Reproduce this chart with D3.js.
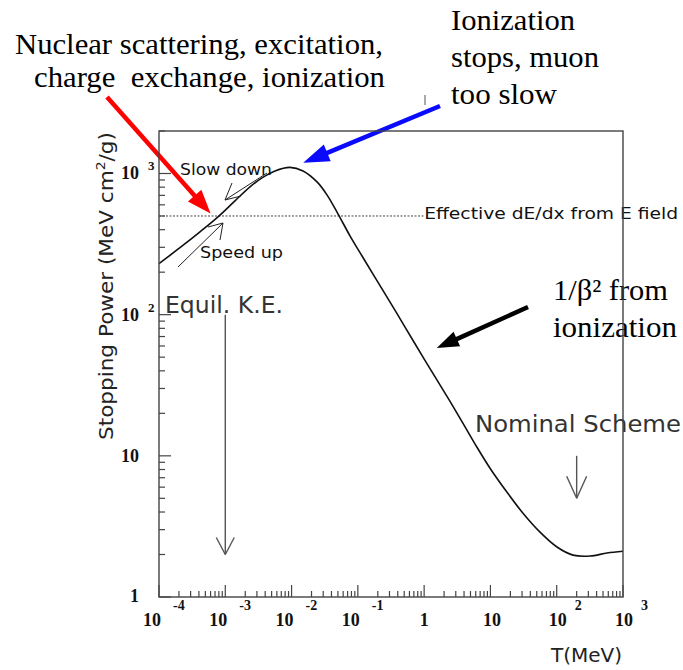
<!DOCTYPE html>
<html>
<head>
<meta charset="utf-8">
<script src="https://cdn.jsdelivr.net/npm/d3@7"></script>
<style>
  html, body { margin: 0; padding: 0; background: #fff; }
  svg { display: block; }
  .serif { font-family: "Liberation Serif", "Times New Roman", serif; }
  .sans  { font-family: "DejaVu Sans", Verdana, sans-serif; }
</style>
</head>
<body>
<svg id="chart" width="683" height="670"></svg>
<script>
// Muon stopping power in matter versus kinetic energy (log-log)
const energyMeV = [1e-4, 2.07e-4, 4.15e-4, 7.76e-4, 1.4e-3, 2.36e-3, 3.58e-3, 5.62e-3, 9.47e-3,
  0.0149, 0.0242, 0.0342, 0.0501, 0.076, 0.12, 0.216, 0.39, 0.68, 1.22, 2.21, 3.86, 6.27,
  9.86, 17.8, 31, 56, 101, 176, 318, 574, 1000];
const stoppingPower = [230, 298, 386, 493, 640, 804, 931, 1043, 1105,
  1043, 872, 706, 518, 362, 253, 160.5, 101.7, 65.6, 41.6, 26.4, 17.0, 11.5,
  8.17, 5.52, 3.92, 2.88, 2.26, 1.98, 1.95, 2.05, 2.11];

const xTickExponents = [-4, -3, -2, -1, 0, 1, 2, 3];
const yTickExponents = [0, 1, 2, 3];

// Reference levels marked on the plot
const effectiveDEdx = 500;      // MeV cm^2/g, from the E field
const effectiveLineEnd = 1;     // MeV
const equilKE = 1e-3;           // MeV
const equilArrowRange = [100, 2];
const nominalT = 200;           // MeV
const nominalArrowRange = [10, 5];

const svg = d3.select("#chart");
const plot = { left: 159, right: 623, top: 131, bottom: 597 };

const x = d3.scaleLog().domain([1e-4, 1e3]).range([plot.left, plot.right]);
const y = d3.scaleLog().domain([1, 2000]).range([plot.bottom, plot.top]);

const frameColor = "#444";

// ---- ticks (inward, major per decade, minor 2..9) ----
const ticks = svg.append("g").attr("stroke", frameColor).attr("stroke-width", 1.2);
function tickValues(scale) {
  const [a, b] = scale.domain();
  const out = [];
  for (let e = Math.floor(Math.log10(a)); e <= Math.ceil(Math.log10(b)); e++) {
    for (let m = 1; m <= 9; m++) {
      const v = m * Math.pow(10, e);
      if (v >= a * 0.999 && v <= b * 1.001) out.push({ v, major: m === 1 });
    }
  }
  return out;
}
tickValues(x).forEach(t => {
  ticks.append("line")
    .attr("x1", x(t.v)).attr("x2", x(t.v))
    .attr("y1", plot.bottom).attr("y2", plot.bottom - (t.major ? 12 : 6));
});
tickValues(y).forEach(t => {
  ticks.append("line")
    .attr("y1", y(t.v)).attr("y2", y(t.v))
    .attr("x1", plot.left).attr("x2", plot.left + (t.major ? 12 : 6));
});

// ---- x tick labels ----
const xLab = svg.append("g").attr("class", "serif").attr("font-weight", "bold").attr("fill", "#111");
xTickExponents.forEach(e => {
  const px = x(Math.pow(10, e));
  if (e === 0 || e === 1) {
    xLab.append("text").attr("x", px + (e === 1 ? 1.5 : 0)).attr("y", 626)
      .attr("text-anchor", "middle").attr("font-size", 18)
      .text(e === 0 ? "1" : "10");
  } else {
    const t = xLab.append("text").attr("x", px + (e < 0 ? -16 : -8)).attr("y", 626)
      .attr("font-size", 18);
    t.append("tspan").text("10");
    t.append("tspan").attr("dx", e < 0 ? 12 : 8).attr("dy", -16)
      .attr("font-size", 14).text(e < 0 ? "-" + Math.abs(e) : String(e));
  }
});

// ---- y tick labels ----
const yLab = svg.append("g").attr("class", "serif").attr("font-weight", "bold").attr("fill", "#111");
yTickExponents.forEach(e => {
  const py = y(Math.pow(10, e));
  if (e === 0 || e === 1) {
    yLab.append("text").attr("x", 139).attr("y", py + (e === 0 ? 5 : 6))
      .attr("text-anchor", "end").attr("font-size", 18)
      .text(e === 0 ? "1" : "10");
  } else {
    yLab.append("text").attr("x", 139).attr("y", py + 6)
      .attr("text-anchor", "end").attr("font-size", 18).text("10");
    yLab.append("text").attr("x", 148).attr("y", py - 3)
      .attr("font-size", 13).text(String(e));
  }
});

// ---- axis titles ----
const yTitle = svg.append("text").attr("class", "sans")
  .attr("transform", "translate(113,286) rotate(-90)")
  .attr("text-anchor", "middle").attr("font-size", 20).attr("fill", "#222")
  .attr("textLength", 308).attr("lengthAdjust", "spacingAndGlyphs");
yTitle.append("tspan").text("Stopping Power (MeV cm");
yTitle.append("tspan").attr("dy", -8).attr("font-size", 13).text("2");
yTitle.append("tspan").attr("dy", 8).text("/g)");

svg.append("text").attr("class", "sans").attr("x", 622).attr("y", 662)
  .attr("text-anchor", "end").attr("font-size", 20).attr("fill", "#222").text("T(MeV)");

// ---- effective dE/dx level ----
svg.append("line")
  .attr("x1", x(1e-4)).attr("x2", x(effectiveLineEnd))
  .attr("y1", y(effectiveDEdx)).attr("y2", y(effectiveDEdx))
  .attr("stroke", "#444").attr("stroke-width", 1).attr("stroke-dasharray", "2,1.5");
svg.append("text").attr("class", "sans").attr("x", x(effectiveLineEnd)).attr("y", y(effectiveDEdx) + 3)
  .attr("font-size", 16).attr("fill", "#111")
  .attr("textLength", 254).attr("lengthAdjust", "spacingAndGlyphs")
  .text("Effective dE/dx from E field");

// ---- stopping power curve ----
const pts = energyMeV.map((t, i) => [t, stoppingPower[i]]);
svg.append("path").datum(pts)
  .attr("fill", "none").attr("stroke", "#111").attr("stroke-width", 1.6)
  .attr("d", d3.line().x(d => x(d[0])).y(d => y(d[1])).curve(d3.curveCatmullRom.alpha(0.5)));

// ---- open-headed arrows ----
function openArrow(x1, y1, x2, y2, arms, color, w) {
  const g = svg.append("g").attr("stroke", color).attr("stroke-width", w).attr("fill", "none");
  g.append("line").attr("x1", x1).attr("y1", y1).attr("x2", x2).attr("y2", y2);
  arms.forEach(a => g.append("line").attr("x1", a[0]).attr("y1", a[1]).attr("x2", x2).attr("y2", y2));
}
const ex = x(equilKE);
openArrow(ex, y(equilArrowRange[0]), ex, y(equilArrowRange[1]),
  [[ex - 9, y(equilArrowRange[1]) - 17], [ex + 9, y(equilArrowRange[1]) - 17]], "#555", 1.4);
const nx = x(nominalT);
openArrow(nx, y(nominalArrowRange[0]), nx, y(nominalArrowRange[1]),
  [[nx - 10, y(nominalArrowRange[1]) - 22], [nx + 10, y(nominalArrowRange[1]) - 22]], "#555", 1.4);

// slow down / speed up
openArrow(267, 173, 225, 200, [[232, 183], [241, 196]], "#222", 1);
openArrow(178, 267, 223, 223, [[208, 227], [220, 240]], "#222", 1);
svg.append("text").attr("class", "sans").attr("x", 180).attr("y", 175)
  .attr("font-size", 16).attr("fill", "#111")
  .attr("textLength", 92).attr("lengthAdjust", "spacingAndGlyphs").text("Slow down");
svg.append("text").attr("class", "sans").attr("x", 200).attr("y", 258)
  .attr("font-size", 16).attr("fill", "#111")
  .attr("textLength", 83).attr("lengthAdjust", "spacingAndGlyphs").text("Speed up");

// in-plot labels
svg.append("text").attr("class", "sans").attr("x", 165).attr("y", 313)
  .attr("font-size", 23).attr("fill", "#333")
  .attr("textLength", 118).attr("lengthAdjust", "spacingAndGlyphs").text("Equil. K.E.");
svg.append("text").attr("class", "sans").attr("x", 475).attr("y", 432)
  .attr("font-size", 23).attr("fill", "#333")
  .attr("textLength", 206).attr("lengthAdjust", "spacingAndGlyphs").text("Nominal Scheme");

// ---- outer annotations (serif, with thick filled arrows) ----
function serifText(str, px, py, len) {
  svg.append("text").attr("class", "serif").attr("x", px).attr("y", py)
    .attr("font-size", 30).attr("fill", "#000").style("white-space", "pre")
    .attr("textLength", len).attr("lengthAdjust", "spacingAndGlyphs").text(str);
}
serifText("Nuclear scattering, excitation,", 15, 54, 368);
serifText("charge  exchange, ionization", 34, 87, 351);
serifText("Ionization", 451, 30, 124);
serifText("stops, muon", 451, 67, 148);
serifText("too slow", 451, 104, 106);
serifText("1/β² from", 553, 300, 115);
serifText("ionization", 553, 337, 124);

function solidArrow(tail, tip, color, width, headLen, headHalf) {
  const dx = tip[0] - tail[0], dy = tip[1] - tail[1];
  const L = Math.hypot(dx, dy), ux = dx / L, uy = dy / L;
  const bx = tip[0] - ux * headLen, by = tip[1] - uy * headLen;
  svg.append("line").attr("x1", tail[0]).attr("y1", tail[1]).attr("x2", bx + ux * 2).attr("y2", by + uy * 2)
    .attr("stroke", color).attr("stroke-width", width);
  svg.append("path")
    .attr("d", `M${tip[0]},${tip[1]}L${bx - uy * headHalf},${by + ux * headHalf}L${bx + uy * headHalf},${by - ux * headHalf}Z`)
    .attr("fill", color);
}
solidArrow([107, 97], [x(6e-4), y(520)], "#ff0000", 4.5, 24, 9);
solidArrow([440, 106], [x(0.015), y(1190)], "#0a0aff", 4.5, 26, 9);
solidArrow([528, 307], [x(1.55), y(58)], "#000", 4.5, 22, 8);

// ---- frame (drawn last, crosses the labels on the right) ----
svg.append("rect")
  .attr("x", plot.left).attr("y", plot.top)
  .attr("width", plot.right - plot.left).attr("height", plot.bottom - plot.top)
  .attr("fill", "none").attr("stroke", frameColor).attr("stroke-width", 1.4);

// small mark above the frame
svg.append("line").attr("x1", 425).attr("x2", 425).attr("y1", 95).attr("y2", 105)
  .attr("stroke", "#555").attr("stroke-width", 1);
</script>
</body>
</html>
